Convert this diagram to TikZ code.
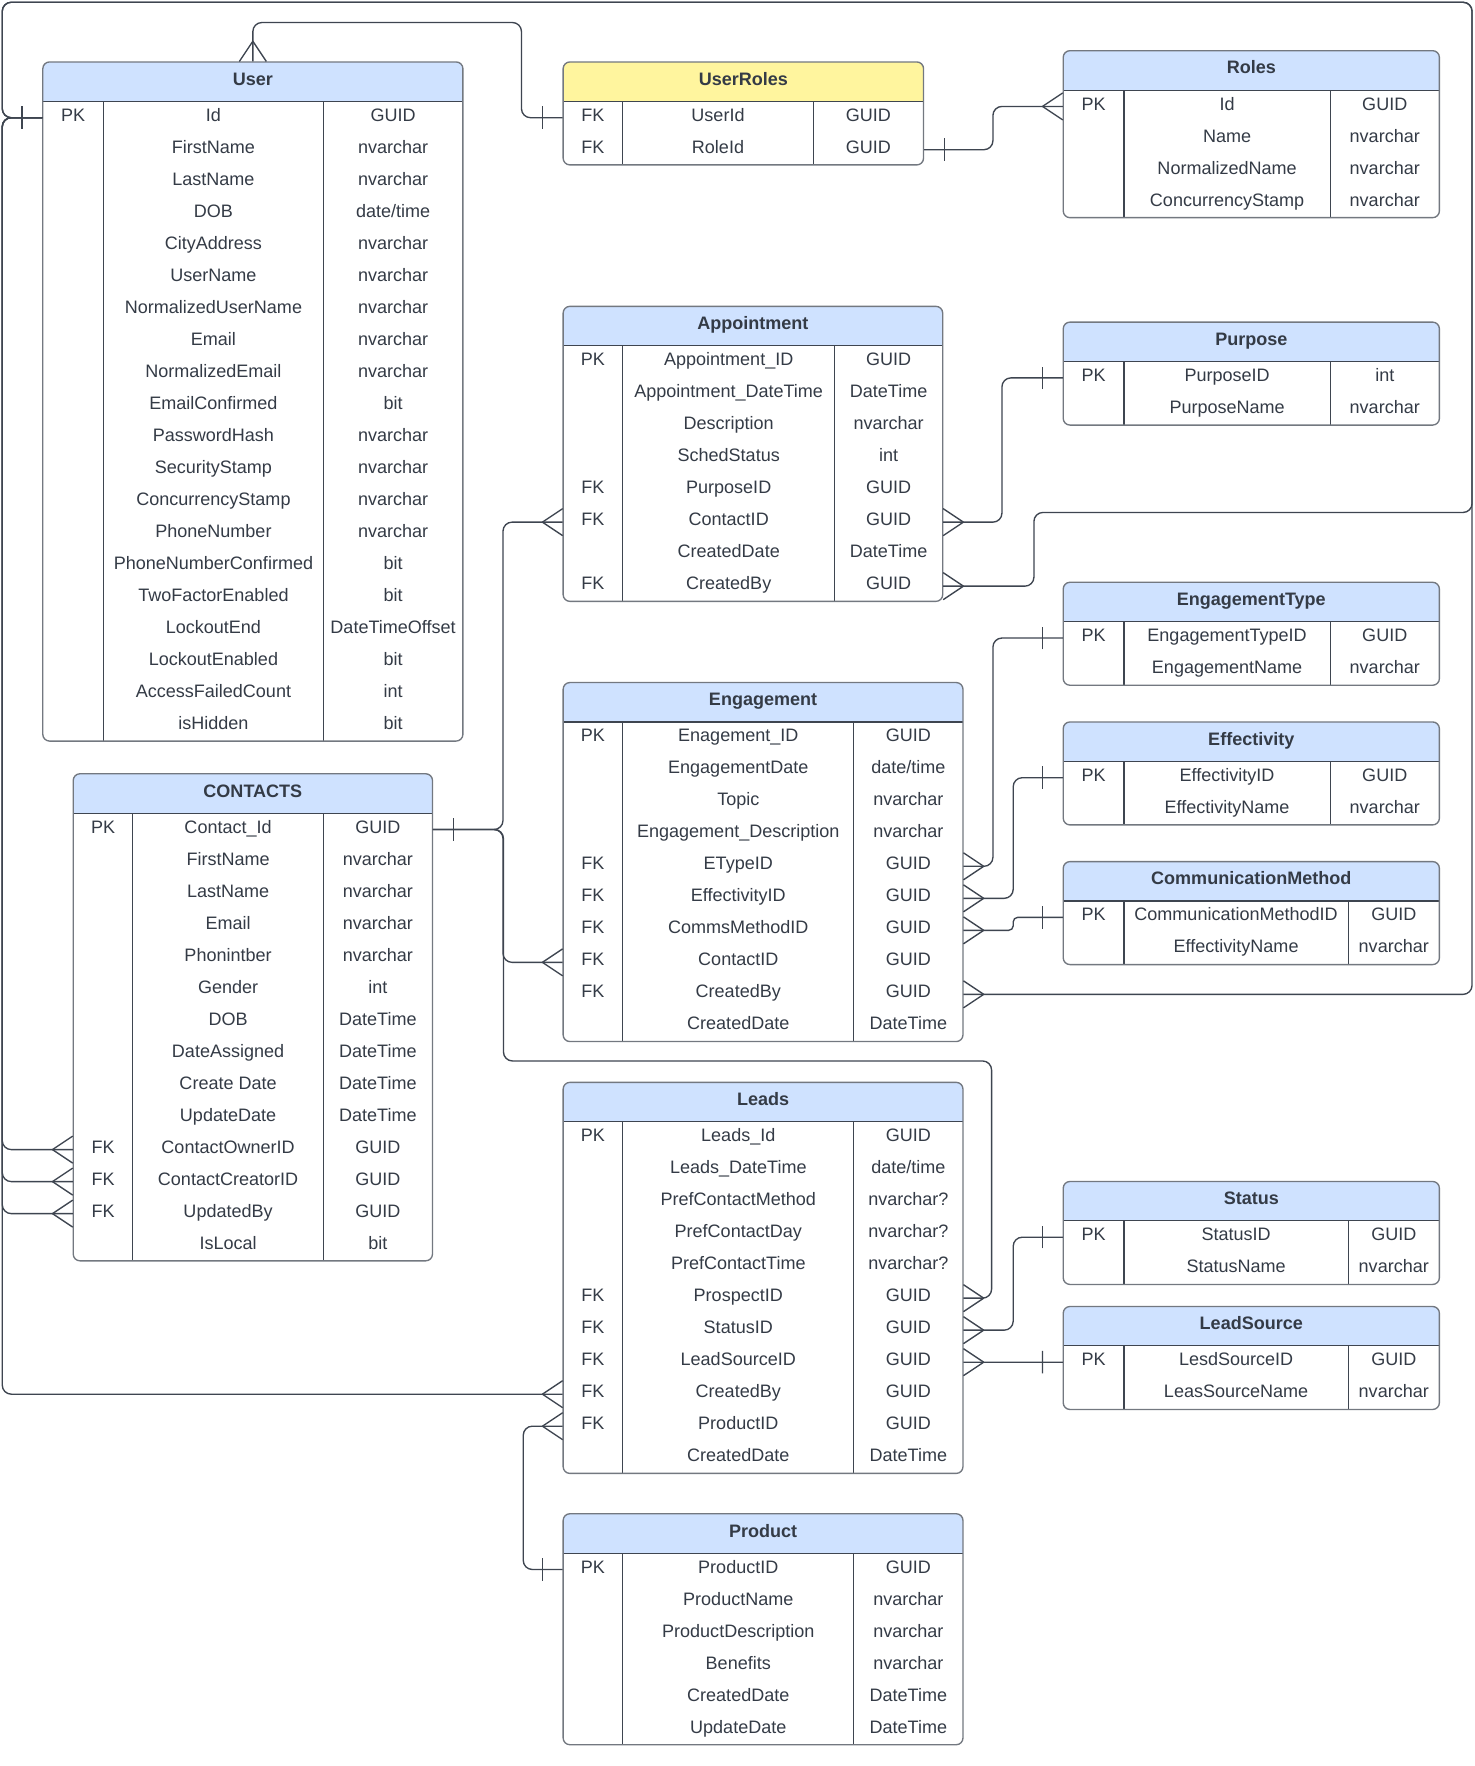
\documentclass[tikz,border=0pt]{standalone}
\usepackage{fontspec}
\setmainfont{Liberation Sans}
\usetikzlibrary{decorations.markings}

\definecolor{headblue}{HTML}{CFE2FF}
\definecolor{headyellow}{HTML}{FFF59E}
\definecolor{edgegray}{HTML}{737880}
\definecolor{rulegray}{HTML}{3E4550}
\definecolor{inkgray}{HTML}{343B46}

\tikzstyle{erd}=[x=0.5pt, y=-0.5pt]
\tikzstyle{tablebox}=[draw=edgegray, line width=0.6pt, rounded corners=3pt]
\tikzstyle{tablerule}=[draw=rulegray, line width=0.5pt]
\tikzstyle{tabletitle}=[font=\bfseries\fontsize{8}{10}\selectfont, text=inkgray, inner sep=0pt, text height=5.7pt, text depth=2.5pt]
\tikzstyle{cell}=[font=\fontsize{8}{10}\selectfont, text=inkgray, inner sep=0pt, text height=5.7pt, text depth=0pt]
\tikzstyle{rowline}=[inner sep=0pt, minimum height=14.21pt]
\tikzstyle{link}=[draw=rulegray, line width=0.6pt, rounded corners=4pt]
\tikzstyle{manyend}=[postaction={decorate, decoration={markings, mark=at position 1 with
  {\draw[rulegray, line width=0.6pt, sharp corners] (-9pt,0pt) -- (0pt,6pt) (-9pt,0pt) -- (0pt,-6pt);}}}]
\tikzstyle{manystart}=[postaction={decorate, decoration={markings, mark=at position 0 with
  {\draw[rulegray, line width=0.6pt, sharp corners] (9pt,0pt) -- (0pt,6pt) (9pt,0pt) -- (0pt,-6pt);}}}]
\tikzstyle{oneend}=[postaction={decorate, decoration={markings, mark=at position -9pt with
  {\draw[rulegray, line width=0.6pt] (0pt,-5pt) -- (0pt,5pt);}}}]
\tikzstyle{onestart}=[postaction={decorate, decoration={markings, mark=at position 9pt with
  {\draw[rulegray, line width=0.6pt] (0pt,-5pt) -- (0pt,5pt);}}}]

% #1 name, #2 header colour, #3 title, #4 left, #5 right, #6 top, #7 and #8 dividers, #9 rows
\newcommand\erdtable[9]{%
  \foreach \tabitem [count=\rowno] in {#9} {\xdef\rowcount{\rowno}}
  \pgfmathsetmacro\tabbot{#6+63+(\rowcount-1)*28.42}
  \begin{scope}
    \clip[rounded corners=3pt] (#4,#6) rectangle (#5,\tabbot);
    \fill[#2] (#4,#6) rectangle (#5,#6+35);
  \end{scope}
  \draw[tablerule] (#4,#6+35) -- (#5,#6+35)
    (#7,#6+35) -- (#7,\tabbot) (#8,#6+35) -- (#8,\tabbot);
  \draw[tablebox] (#4,#6) rectangle (#5,\tabbot);
  \node[tabletitle, minimum width={(#5-#4)*0.5pt}, minimum height=17.5pt] (#1) at ({(#4+#5)/2},#6+17.5) {#3};
  \foreach \keyname/\fieldname/\typename [count=\rowidx] in {#9} {
    \pgfmathsetmacro\rowy{#6+47+(\rowidx-1)*28.42}
    \node[rowline, minimum width={(#5-#4)*0.5pt}] (#1-\rowidx) at ({(#4+#5)/2},\rowy+2.5) {};
    \node[cell] (#1-k\rowidx) at ({(#4+#7)/2},\rowy) {\keyname};
    \node[cell] (#1-f\rowidx) at ({(#7+#8)/2},\rowy) {\fieldname};
    \node[cell] (#1-t\rowidx) at ({(#8+#5)/2},\rowy) {\typename};
  }
}

\begin{document}
\begin{tikzpicture}[erd]
  \useasboundingbox (0,0) rectangle (1309,1568);
  \fill[white] (0,0) rectangle (1309,1568);

  \erdtable{user}{headblue}{User}{38}{411}{55}{92}{287}{PK/Id/GUID, /FirstName/nvarchar,
    /LastName/nvarchar, /DOB/{date/time}, /CityAddress/nvarchar, /UserName/nvarchar,
    /NormalizedUserName/nvarchar, /Email/nvarchar, /NormalizedEmail/nvarchar, /EmailConfirmed/bit,
    /PasswordHash/nvarchar, /SecurityStamp/nvarchar, /ConcurrencyStamp/nvarchar, /PhoneNumber/nvarchar,
    /PhoneNumberConfirmed/bit, /TwoFactorEnabled/bit, /LockoutEnd/DateTimeOffset, /LockoutEnabled/bit,
    /AccessFailedCount/int, /isHidden/bit}
  \erdtable{userroles}{headyellow}{UserRoles}{500}{820}{55}{553}{722}{FK/UserId/GUID, FK/RoleId/GUID}
  \erdtable{roles}{headblue}{Roles}{944}{1278}{45}{998}{1181}{PK/Id/GUID, /Name/nvarchar,
    /NormalizedName/nvarchar, /ConcurrencyStamp/nvarchar}
  \erdtable{appointment}{headblue}{Appointment}{500}{837}{272}{553}{741}{PK/Appointment\_ID/GUID,
    /Appointment\_DateTime/DateTime, /Description/nvarchar, /SchedStatus/int, FK/PurposeID/GUID,
    FK/ContactID/GUID, /CreatedDate/DateTime, FK/CreatedBy/GUID}
  \erdtable{purpose}{headblue}{Purpose}{944}{1278}{286}{998}{1181}{PK/PurposeID/int, /PurposeName/nvarchar}
  \erdtable{engagementtype}{headblue}{EngagementType}{944}{1278}{517}{998}{1181}{PK/EngagementTypeID/GUID,
    /EngagementName/nvarchar}
  \erdtable{effectivity}{headblue}{Effectivity}{944}{1278}{641}{998}{1181}{PK/EffectivityID/GUID,
    /EffectivityName/nvarchar}
  \erdtable{commmethod}{headblue}{CommunicationMethod}{944}{1278}{765}{998}{1197}{PK/CommunicationMethodID/GUID,
    /EffectivityName/nvarchar}
  \erdtable{engagement}{headblue}{Engagement}{500}{855}{606}{553}{758}{PK/Enagement\_ID/GUID,
    /EngagementDate/{date/time}, /Topic/nvarchar, /Engagement\_Description/nvarchar, FK/ETypeID/GUID,
    FK/EffectivityID/GUID, FK/CommsMethodID/GUID, FK/ContactID/GUID, FK/CreatedBy/GUID, /CreatedDate/DateTime}
  \erdtable{contacts}{headblue}{CONTACTS}{65}{384}{687}{118}{287}{PK/Contact\_Id/GUID, /FirstName/nvarchar,
    /LastName/nvarchar, /Email/nvarchar, /Phonintber/nvarchar, /Gender/int, /DOB/DateTime,
    /DateAssigned/DateTime, /Create Date/DateTime, /UpdateDate/DateTime, FK/ContactOwnerID/GUID,
    FK/ContactCreatorID/GUID, FK/UpdatedBy/GUID, /IsLocal/bit}
  \erdtable{leads}{headblue}{Leads}{500}{855}{961}{553}{758}{PK/Leads\_Id/GUID, /Leads\_DateTime/{date/time},
    /PrefContactMethod/nvarchar?, /PrefContactDay/nvarchar?, /PrefContactTime/nvarchar?, FK/ProspectID/GUID,
    FK/StatusID/GUID, FK/LeadSourceID/GUID, FK/CreatedBy/GUID, FK/ProductID/GUID, /CreatedDate/DateTime}
  \erdtable{status}{headblue}{Status}{944}{1278}{1049}{998}{1197}{PK/StatusID/GUID, /StatusName/nvarchar}
  \erdtable{leadsource}{headblue}{LeadSource}{944}{1278}{1160}{998}{1197}{PK/LesdSourceID/GUID,
    /LeasSourceName/nvarchar}
  \erdtable{product}{headblue}{Product}{500}{855}{1344}{553}{758}{PK/ProductID/GUID, /ProductName/nvarchar,
    /ProductDescription/nvarchar, /Benefits/nvarchar, /CreatedDate/DateTime, /UpdateDate/DateTime}

  % outer rails
  \coordinate (nw) at (2,2);
  \coordinate (ne) at (1307,2);

  % user links
  \draw[link, onestart, manyend] (user-1.west) -| (nw) -- (ne) |- (918,455) |- (appointment-8.east);
  \draw[link, manystart] (engagement-9.east) -| (ne) -- (nw) |- (user-1.west);
  \draw[link, manyend] (user-1.west) -| (nw |- leads-9.west) -- (leads-9.west);
  \foreach \r in {11,12,13}
    \draw[link, manyend] (user-1.west) -| (nw |- contacts-\r.west) -- (contacts-\r.west);
  \draw[link, manystart, oneend] (user.north) |- (463,20) |- (userroles-1.west);
  \draw[link, onestart, manyend] (userroles-2.east) -| ([xshift=-31pt]roles-1.west) -- (roles-1.west);

  % contact links
  \draw[link, onestart, manyend] (contacts-1.east) -| ([xshift=-26.5pt]appointment-6.west) -- (appointment-6.west);
  \draw[link, manyend] (contacts-1.east) -| ([xshift=-26.5pt]engagement-8.west) -- (engagement-8.west);
  \draw[link, manyend] (contacts-1.east) -| (447,942) -| ([xshift=12.5pt]leads-6.east) -- (leads-6.east);

  % lookup tables
  \draw[link, manystart, oneend] (appointment-6.east) -| ([xshift=-27pt]purpose-1.west) -- (purpose-1.west);
  \draw[link, manystart, oneend] (engagement-5.east) -| ([xshift=-31pt]engagementtype-1.west) -- (engagementtype-1.west);
  \draw[link, manystart, oneend] (engagement-6.east) -| ([xshift=-22pt]effectivity-1.west) -- (effectivity-1.west);
  \draw[link, manystart, oneend, rounded corners=2pt] (engagement-7.east) -| ([xshift=-22pt]commmethod-1.west) -- (commmethod-1.west);
  \draw[link, manystart, oneend] (leads-7.east) -| ([xshift=-22pt]status-1.west) -- (status-1.west);
  \draw[link, manystart, oneend] (leads-8.east) -- (leadsource-1.west);
  \draw[link, manystart, oneend] (leads-10.west) -| ([xshift=-17.5pt]product-1.west) -- (product-1.west);
\end{tikzpicture}
\end{document}
